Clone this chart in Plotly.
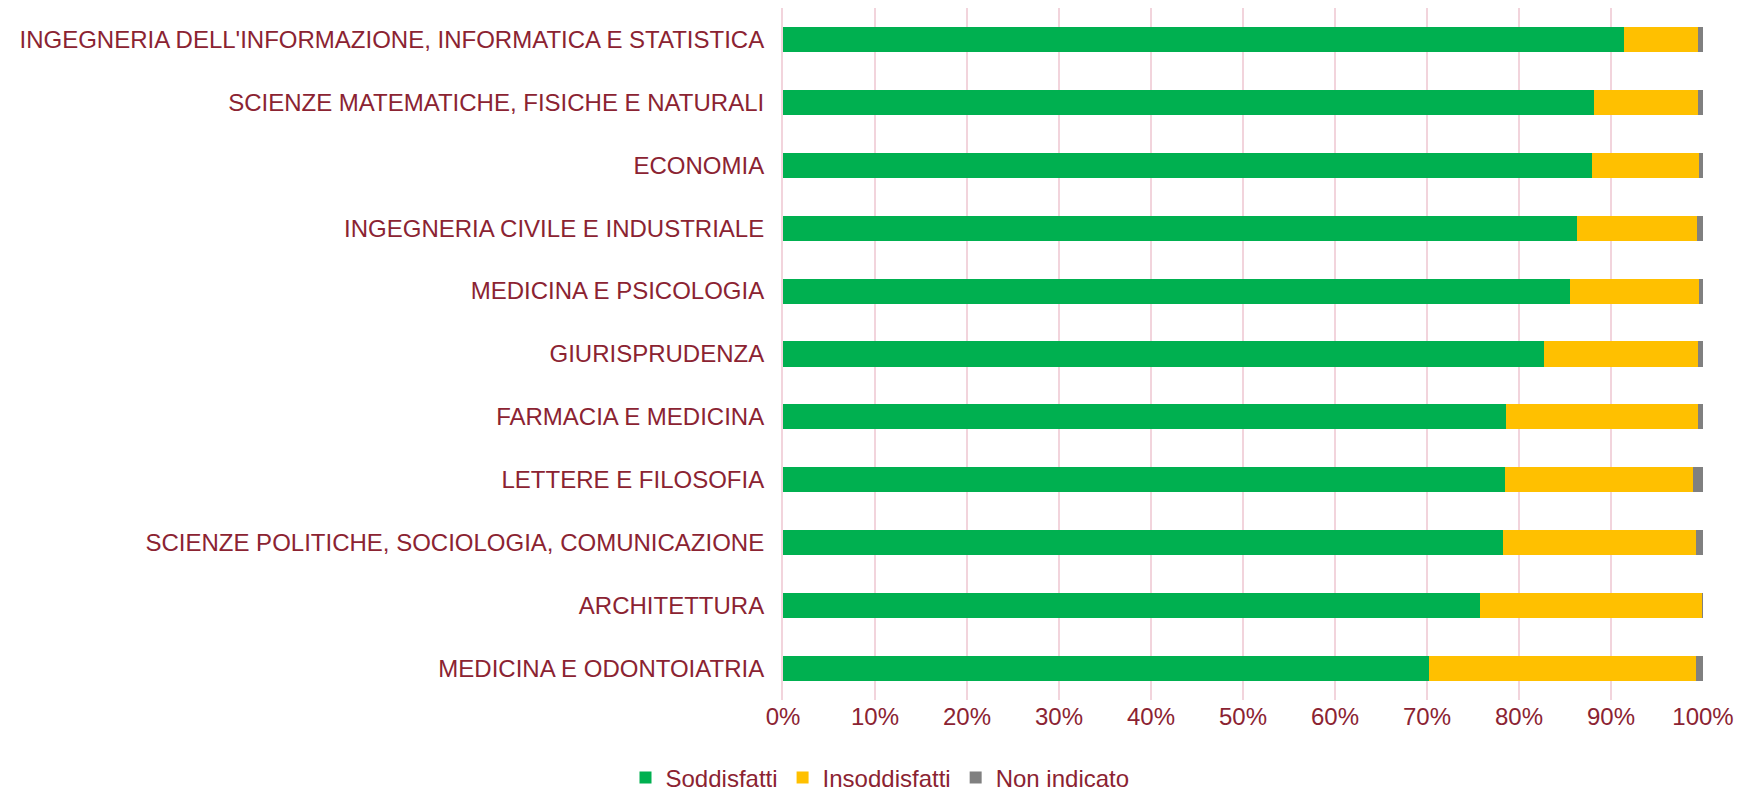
import plotly.graph_objects as go

categories = [
    "INGEGNERIA DELL'INFORMAZIONE, INFORMATICA E STATISTICA",
    "SCIENZE MATEMATICHE, FISICHE E NATURALI",
    "ECONOMIA",
    "INGEGNERIA CIVILE E INDUSTRIALE",
    "MEDICINA E PSICOLOGIA",
    "GIURISPRUDENZA",
    "FARMACIA E MEDICINA",
    "LETTERE E FILOSOFIA",
    "SCIENZE POLITICHE, SOCIOLOGIA, COMUNICAZIONE",
    "ARCHITETTURA",
    "MEDICINA E ODONTOIATRIA",
]
soddisfatti = [91.45, 88.2, 87.9, 86.3, 85.5, 82.75, 78.6, 78.5, 78.3, 75.8, 70.25]
insoddisfatti = [8.05, 11.3, 11.7, 13.0, 14.1, 16.7, 20.9, 20.4, 20.9, 24.1, 28.95]
non_indicato = [0.5, 0.5, 0.4, 0.7, 0.4, 0.55, 0.5, 1.1, 0.8, 0.1, 0.8]

text_color = "#8B2332"
grid_color = "#F2D4DC"
font_family = "Liberation Sans, Arial, sans-serif"

fig = go.Figure()
for name, vals, col in [
    ("Soddisfatti", soddisfatti, "#00B050"),
    ("Insoddisfatti", insoddisfatti, "#FFC000"),
    ("Non indicato", non_indicato, "#808080"),
]:
    fig.add_trace(go.Bar(
        y=categories, x=[v / 100 for v in vals], name=name, orientation="h",
        marker=dict(color=col, line=dict(width=0)),
    ))

fig.update_layout(
    barmode="stack",
    bargap=0.6,
    width=1744, height=784,
    margin=dict(l=775, r=49, t=0, b=92, autoexpand=False),
    plot_bgcolor="white", paper_bgcolor="white",
    font=dict(family=font_family, size=24, color=text_color),
    showlegend=True,
    legend=dict(orientation="h", x=0.5, xanchor="center", xref="container",
                y=0.018, yanchor="middle", yref="container",
                font=dict(size=24, color=text_color), traceorder="normal",
                itemwidth=30),
    xaxis=dict(range=[0, 1], tickformat=".0%", dtick=0.1, showgrid=True,
               gridcolor=grid_color, gridwidth=2, zeroline=False,
               showline=False, ticks="", tickfont=dict(size=24, color=text_color)),
    yaxis=dict(categoryorder="array", categoryarray=categories, autorange="reversed",
               ticks="", ticklen=0, showline=True, linecolor=grid_color, linewidth=2,
               automargin=False, ticklabelstandoff=12,
               tickfont=dict(size=24, color=text_color)),
)

fig.write_html("out.html")
